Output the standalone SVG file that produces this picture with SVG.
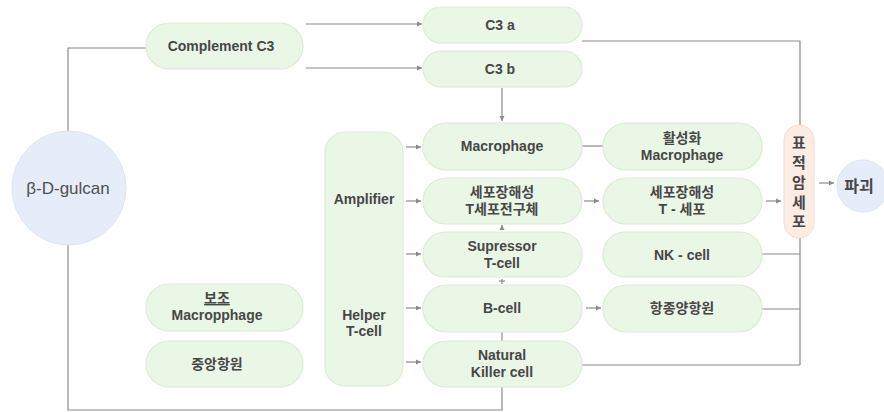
<svg xmlns="http://www.w3.org/2000/svg" width="884" height="412" viewBox="0 0 884 412">
<style>
.box{fill:#eaf6e6;stroke:#dcecd6;stroke-width:1.2}
.circ{fill:#e6edf9;stroke:#dde5f2;stroke-width:1}
.pink{fill:#fbece4;stroke:#f1dcd2;stroke-width:1}
.t{font-family:"Liberation Sans","Noto Sans CJK KR",sans-serif;font-weight:bold;font-size:14px;fill:#474747;text-anchor:middle}
.ln{fill:none;stroke:#8a8a8a;stroke-width:1.2}
.ar{fill:none;stroke:#8a8a8a;stroke-width:1.2;marker-end:url(#ah)}
</style>
<defs>
<marker id="ah" markerWidth="6" markerHeight="6" refX="5" refY="3" orient="auto" markerUnits="userSpaceOnUse">
<path d="M0,0.5 L5,3 L0,5.5 Z" fill="#8a8a8a"/>
</marker>
</defs>
<g id="connectors">
<polyline class="ln" points="68,131 68,48 146,48"/>
<polyline class="ln" points="68,245 68,410 502,410 502,387"/>
<line class="ar" x1="306" y1="24" x2="422" y2="24"/>
<line class="ar" x1="306" y1="68" x2="422" y2="68"/>
<line class="ar" x1="502" y1="88" x2="502" y2="121"/>
<polyline class="ln" points="582,41 800,41 800,125"/>
<line class="ln" x1="800" y1="238" x2="800" y2="365"/>
<line class="ln" x1="762" y1="254" x2="800" y2="254"/>
<line class="ln" x1="762" y1="309" x2="800" y2="309"/>
<line class="ln" x1="582" y1="365" x2="800" y2="365"/>
<line class="ln" x1="582" y1="146" x2="603" y2="146"/>
<line class="ar" x1="584" y1="201" x2="599" y2="201"/>
<line class="ar" x1="766" y1="201" x2="781" y2="201"/>
<line class="ar" x1="819" y1="183" x2="834" y2="183"/>
<line class="ar" x1="586" y1="308" x2="601" y2="308"/>
<line class="ln" x1="502" y1="332" x2="502" y2="341"/>
<line class="ar" x1="406" y1="147" x2="421" y2="147"/>
<line class="ar" x1="406" y1="201" x2="421" y2="201"/>
<line class="ar" x1="406" y1="254" x2="421" y2="254"/>
<line class="ar" x1="406" y1="308" x2="421" y2="308"/>
<line class="ar" x1="406" y1="362" x2="421" y2="362"/>
<line class="ar" x1="502" y1="230" x2="502" y2="225"/>
<line class="ln" x1="502" y1="279" x2="502" y2="284"/>
<line class="ln" x1="499" y1="281" x2="505" y2="281"/>
</g>
<g id="beta-d-gulcan"><circle class="circ" cx="69" cy="188" r="57"/><text class="t" x="68" y="194" style="font-weight:normal;font-size:17px;fill:#505050">β-D-gulcan</text></g>
<g id="complement-c3"><rect class="box" x="146" y="23" width="157" height="46" rx="23"/><text class="t" x="221" y="51">Complement C3</text></g>
<g id="c3a"><rect class="box" x="423" y="7" width="159" height="36" rx="18"/><text class="t" x="500" y="30">C3 a</text></g>
<g id="c3b"><rect class="box" x="423" y="51" width="159" height="36" rx="18"/><text class="t" x="500" y="74">C3 b</text></g>
<g id="amplifier-helper"><rect class="box" x="325" y="132" width="78" height="254" rx="20"/><text class="t" x="364" y="204">Amplifier</text><text class="t" x="364" y="320">Helper</text><text class="t" x="364" y="336">T-cell</text></g>
<g id="macrophage"><rect class="box" x="423" y="123" width="159" height="47" rx="23"/><text class="t" x="502" y="151">Macrophage</text></g>
<g id="ctl-precursor"><rect class="box" x="423" y="178" width="159" height="46" rx="23"/><text class="t" x="502" y="197">세포장해성</text><text class="t" x="502" y="214">T세포전구체</text></g>
<g id="supressor"><rect class="box" x="423" y="232" width="159" height="45" rx="22"/><text class="t" x="502" y="251">Supressor</text><text class="t" x="502" y="268">T-cell</text></g>
<g id="b-cell"><rect class="box" x="423" y="285" width="159" height="47" rx="23"/><text class="t" x="502" y="313">B-cell</text></g>
<g id="natural-killer"><rect class="box" x="423" y="341" width="159" height="46" rx="23"/><text class="t" x="502" y="360">Natural</text><text class="t" x="502" y="377">Killer cell</text></g>
<g id="activated-macrophage"><rect class="box" x="603" y="123" width="159" height="47" rx="23"/><text class="t" x="682" y="143">활성화</text><text class="t" x="682" y="160">Macrophage</text></g>
<g id="ctl"><rect class="box" x="603" y="178" width="159" height="46" rx="23"/><text class="t" x="682" y="197">세포장해성</text><text class="t" x="682" y="214">T - 세포</text></g>
<g id="nk-cell"><rect class="box" x="603" y="232" width="159" height="45" rx="22"/><text class="t" x="682" y="260">NK - cell</text></g>
<g id="antitumor"><rect class="box" x="603" y="285" width="159" height="47" rx="23"/><text class="t" x="682" y="313">항종양항원</text></g>
<g id="aux-macrophage"><rect class="box" x="146" y="284" width="157" height="47" rx="23"/><text class="t" x="217" y="303" style="text-decoration:underline">보조</text><text class="t" x="217" y="320">Macropphage</text></g>
<g id="central-antigen"><rect class="box" x="146" y="341" width="157" height="46" rx="23"/><text class="t" x="217" y="369">중앙항원</text></g>
<g id="target-cancer"><rect class="pink" x="784" y="125" width="30" height="113" rx="15"/><text class="t" x="799" y="148" style="font-size:15px">표</text><text class="t" x="799" y="168" style="font-size:15px">적</text><text class="t" x="799" y="188" style="font-size:15px">암</text><text class="t" x="799" y="208" style="font-size:15px">세</text><text class="t" x="799" y="227" style="font-size:15px">포</text></g>
<g id="destruction"><circle class="circ" cx="863" cy="186" r="26"/><text class="t" x="859" y="192" style="font-size:16px">파괴</text></g>
</svg>
